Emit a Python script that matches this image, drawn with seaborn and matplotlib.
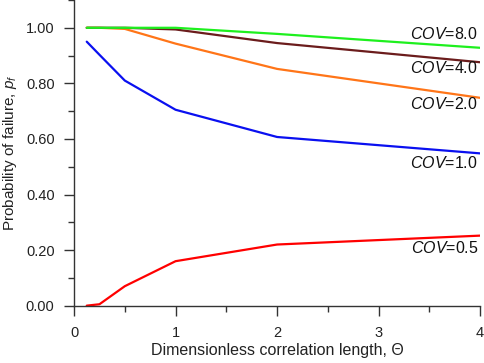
import numpy as np
import pandas as pd
import matplotlib
matplotlib.use("Agg")
import matplotlib.pyplot as plt
import seaborn as sns
from matplotlib.ticker import MultipleLocator

sns.set_style("ticks")
plt.rcParams['font.family'] = ['Liberation Sans', 'DejaVu Sans']
plt.rcParams['mathtext.fontset'] = 'custom'
plt.rcParams['mathtext.rm'] = 'Liberation Sans'
plt.rcParams['mathtext.it'] = 'Liberation Sans:italic'

theta = [0.125, 0.25, 0.5, 1, 2, 4]
cov_labels = ['0.5', '1.0', '2.0', '4.0', '8.0']
pf_05 = [0.0, 0.005, 0.07, 0.16, 0.22, 0.252]
pf_10 = [0.95, 0.903, 0.81, 0.705, 0.607, 0.548]
pf_20 = [1.0, 1.0, 0.996, 0.943, 0.852, 0.748]
pf_40 = [1.0, 1.0, 1.0, 0.994, 0.945, 0.876]
pf_80 = [1.0, 1.0, 1.0, 1.0, 0.978, 0.928]
label_y = [0.208, 0.515, 0.725, 0.854, 0.978]
colors = ['#ff0000', '#0a10f0', '#ff7518', '#6b1c1c', '#1ef01e']

series = [pf_05, pf_10, pf_20, pf_40, pf_80]
df = pd.concat([pd.DataFrame({'theta': theta, 'pf': s, 'cov': c})
                for s, c in zip(series, cov_labels)])

fig = plt.figure(figsize=(4.84, 3.63), dpi=100)
ax = fig.add_axes([0.153, 0.158, 0.839, 0.842])
sns.lineplot(data=df, x='theta', y='pf', hue='cov', palette=colors,
             linewidth=1.6, legend=False, ax=ax)

for c, yl in zip(cov_labels, label_y):
    ax.text(3.98, yl, '$COV$=' + c, ha='right', va='center', fontsize=11.5,
            color='#111111')

ax.set_xlim(0, 4)
ax.set_ylim(0, 1.1)
ax.set_xticks([0, 1, 2, 3, 4])
ax.set_yticks([0, 0.2, 0.4, 0.6, 0.8, 1.0])
ax.set_yticklabels(['0.00', '0.20', '0.40', '0.60', '0.80', '1.00'])
ax.xaxis.set_minor_locator(MultipleLocator(0.5))
ax.yaxis.set_minor_locator(MultipleLocator(0.1))
ax.tick_params(which='major', direction='out', length=7, width=1,
               color='#333333', labelsize=10.5, labelcolor='#222222', pad=7)
ax.tick_params(which='minor', direction='out', length=4, width=1,
               color='#333333')
ax.tick_params(axis='x', pad=8)
ax.set_xlabel('Dimensionless correlation length, Θ', fontsize=11.5,
              color='#222222', labelpad=2)
ax.set_ylabel('Probability of failure, $p_f$', fontsize=11, color='#222222',
              labelpad=5)
sns.despine(ax=ax)
for s in ['left', 'bottom']:
    ax.spines[s].set_color('#333333')
    ax.spines[s].set_linewidth(1)

fig.savefig('out.png', dpi=100)
